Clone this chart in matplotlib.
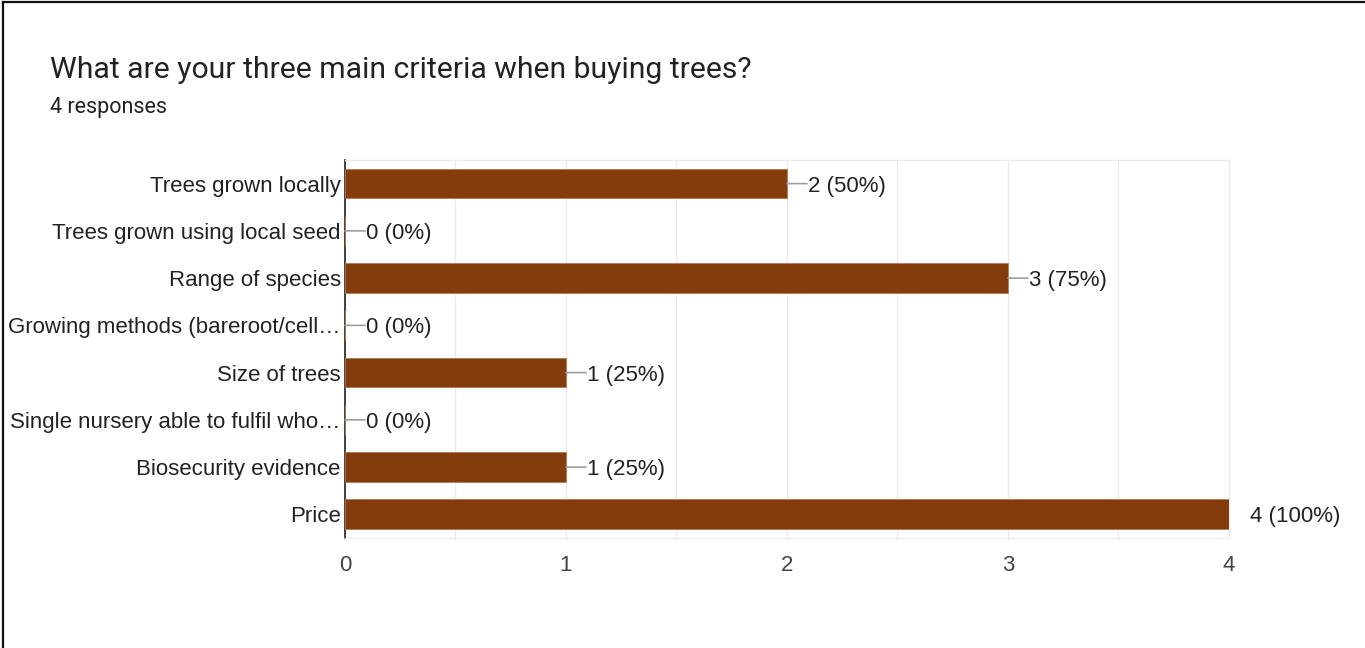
import matplotlib.pyplot as plt
from matplotlib.lines import Line2D

plt.rcParams['font.family'] = ['Liberation Sans', 'DejaVu Sans']

# Survey data
categories = [
    "Trees grown locally",
    "Trees grown using local seed",
    "Range of species",
    "Growing methods (bareroot/cell\u2026",
    "Size of trees",
    "Single nursery able to fulfil who\u2026",
    "Biosecurity evidence",
    "Price",
]
counts = [2, 0, 3, 0, 1, 0, 1, 4]
total_responses = 4
x_ticks = [0, 1, 2, 3, 4]

bar_color = '#843c0c'
text_color = '#222222'
label_size = 16

fig = plt.figure(figsize=(13.65, 6.48), dpi=100)
ax = fig.add_axes([0.2527, 0.1698, 0.6476, 0.5833])

y = list(range(len(categories)))
ax.barh(y, counts, height=0.63, color=bar_color, edgecolor='#b07a5a', linewidth=0.6, zorder=3)
ax.set_ylim(len(categories) - 0.5, -0.5)
ax.set_xlim(0, 4)

# Value labels with short grey leader lines
for yi, c in zip(y, counts):
    pct = round(100 * c / total_responses)
    label = f"{c} ({pct}%)"
    if c != max(counts):
        ax.annotate('', xy=(c, yi), xytext=(14.5, 0), textcoords='offset points',
                    arrowprops=dict(arrowstyle='-', color='#9e9e9e', lw=1.2,
                                    shrinkA=0, shrinkB=0))
    ax.annotate(label, xy=(c, yi), xytext=(15.5, 0), textcoords='offset points',
                va='center_baseline', ha='left', fontsize=label_size, color=text_color)

ax.set_yticks(y)
ax.set_yticklabels(categories, fontsize=label_size, color=text_color)
ax.set_xticks(x_ticks)
ax.set_xticklabels([str(t) for t in x_ticks], fontsize=label_size, color='#444444')
ax.tick_params(axis='both', length=0)
ax.tick_params(axis='x', pad=12.5)
ax.tick_params(axis='y', pad=3)

# Grid every half unit
ax.set_xticks([0.5, 1.5, 2.5, 3.5], minor=True)
ax.grid(axis='x', which='both', color='#ebebeb', linewidth=1, zorder=0)
ax.tick_params(axis='x', which='minor', length=0)

for side in ['top', 'right', 'bottom']:
    ax.spines[side].set_color('#ebebeb')
    ax.spines[side].set_linewidth(1)
ax.spines['left'].set_color('#333333')
ax.spines['left'].set_linewidth(1.3)

# Title and subtitle
fig.text(50 / 1365, 1 - 70 / 648, "What are your three main criteria when buying trees?",
         fontsize=21.7, color=text_color, va='center', ha='left', family=['Roboto', 'DejaVu Sans'])
fig.text(50 / 1365, 1 - 107 / 648, f"{total_responses} responses",
         fontsize=15.5, color=text_color, va='center', ha='left', family=['Roboto', 'DejaVu Sans'])

# Screenshot border (top and left)
fig.add_artist(Line2D([3 / 1365, 1], [1 - 2 / 648, 1 - 2 / 648], color='#111111', lw=1.6,
                      transform=fig.transFigure))
fig.add_artist(Line2D([3 / 1365, 3 / 1365], [0, 1 - 2 / 648], color='#111111', lw=1.6,
                      transform=fig.transFigure))

plt.savefig('out.png', dpi=100)
